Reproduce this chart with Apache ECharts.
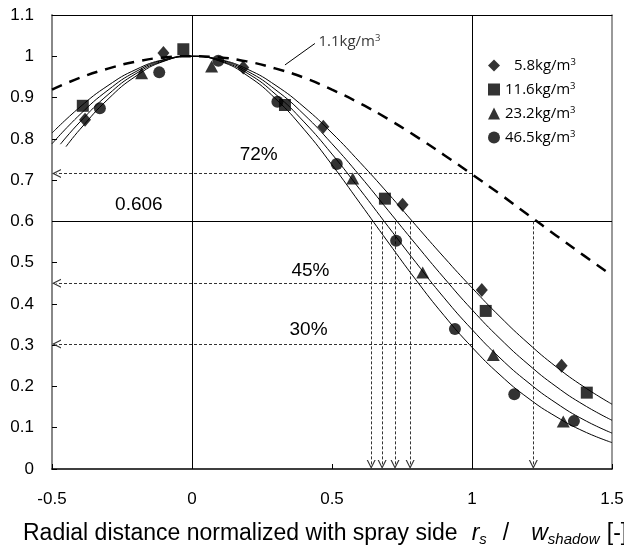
<!DOCTYPE html>
<html><head><meta charset="utf-8">
<script src="https://cdn.jsdelivr.net/npm/echarts@6/dist/echarts.min.js"></script>
<style>html,body{margin:0;padding:0;background:#fff}#c{width:624px;height:558px}</style>
</head><body><div id="c"></div>
<script>
// ---- data ----
const xTickLabels = ['-0.5', '0', '0.5', '1', '1.5'];
const densities = ['5.8', '11.6', '23.2', '46.5'];
const seriesNames = ['5.8kg/m3', '11.6kg/m3', '23.2kg/m3', '46.5kg/m3'];

const pts58  = [[-0.382,0.846],[-0.102,1.008],[0.183,0.973],[0.469,0.829],[0.752,0.640],[1.035,0.434],[1.320,0.250]];
const pts116 = [[-0.390,0.880],[-0.031,1.017],[0.332,0.882],[0.689,0.655],[1.049,0.383],[1.410,0.185]];
const pts232 = [[-0.180,0.959],[0.070,0.975],[0.574,0.704],[0.824,0.476],[1.076,0.276],[1.326,0.115]];
const pts465 = [[-0.329,0.874],[-0.117,0.961],[0.094,0.989],[0.305,0.890],[0.517,0.739],[0.729,0.553],[0.939,0.339],[1.151,0.181],[1.364,0.116]];

const fit58  = [[-0.5,0.814],[-0.4,0.877],[-0.3,0.929],[-0.2,0.968],[-0.1,0.992],[0,1],[0.1,0.992],[0.2,0.968],[0.3,0.929],[0.4,0.877],[0.5,0.814],[0.6,0.743],[0.7,0.668],[0.8,0.590],[0.9,0.513],[1.0,0.439],[1.1,0.369],[1.2,0.305],[1.3,0.248],[1.4,0.199],[1.5,0.157]];
const fit116 = [[-0.5,0.788],[-0.4,0.859],[-0.3,0.918],[-0.2,0.963],[-0.1,0.991],[0,1],[0.1,0.991],[0.2,0.963],[0.3,0.918],[0.4,0.859],[0.5,0.788],[0.6,0.710],[0.7,0.627],[0.8,0.544],[0.9,0.463],[1.0,0.386],[1.1,0.316],[1.2,0.254],[1.3,0.200],[1.4,0.155],[1.5,0.118]];
const fit232 = [[-0.47,0.787],[-0.4,0.841],[-0.3,0.907],[-0.2,0.958],[-0.1,0.989],[0,1],[0.1,0.989],[0.2,0.958],[0.3,0.907],[0.4,0.841],[0.5,0.763],[0.6,0.677],[0.7,0.588],[0.8,0.500],[0.9,0.415],[1.0,0.338],[1.1,0.269],[1.2,0.210],[1.3,0.160],[1.4,0.119],[1.5,0.087]];
const fit465 = [[-0.45,0.781],[-0.4,0.823],[-0.3,0.896],[-0.2,0.952],[-0.1,0.988],[0,1],[0.1,0.988],[0.2,0.952],[0.3,0.896],[0.4,0.823],[0.5,0.737],[0.6,0.644],[0.7,0.550],[0.8,0.458],[0.9,0.372],[1.0,0.295],[1.1,0.228],[1.2,0.172],[1.3,0.127],[1.4,0.091],[1.5,0.064]];
const fit11  = [[-0.5,0.919],[-0.4,0.948],[-0.3,0.970],[-0.2,0.987],[-0.1,0.997],[0,1],[0.1,0.997],[0.2,0.987],[0.3,0.970],[0.4,0.948],[0.5,0.919],[0.6,0.886],[0.7,0.848],[0.8,0.806],[0.9,0.761],[1.0,0.714],[1.1,0.666],[1.2,0.616],[1.3,0.566],[1.4,0.517],[1.5,0.469]];

const refY = 0.6;                       // 0.606 line
const pctLevels = [0.716, 0.45, 0.303]; // 72%, 45%, 30%
const halfWidths = [0.640, 0.679, 0.725, 0.779, 1.219];
const notes = [
  {x:-0.188, y:0.64, text:'0.606'},
  {x:0.24, y:0.761, text:'72%'},
  {x:0.425, y:0.48, text:'45%'},
  {x:0.418, y:0.337, text:'30%'}
];
const leaderLine = [[0.332,0.979],[0.439,1.031]];
const leaderText = {x:0.45, y:1.035};

// ---- chart ----
const FONT = 'Liberation Sans';
const LFONT = 'Open Sans';
const chevron = 'path://M50,0 L100,100 L86,100 L50,28 L14,100 L0,100 Z';

const markData = [];
const solid = {type:'solid', color:'#000', width:1};
markData.push([{coord:[0,0], lineStyle:solid},{coord:[0,1.1]}]);
markData.push([{coord:[1,0], lineStyle:solid},{coord:[1,1.1]}]);
markData.push([{coord:[-0.5,refY], lineStyle:solid},{coord:[1.5,refY]}]);
const dashed = {type:[3,2], color:'#333', width:1};
pctLevels.forEach(v => {
  markData.push([{coord:[1,v], symbol:'none', lineStyle:dashed},{coord:[-0.484,v], symbol:chevron, symbolSize:[9,9]}]);
});
halfWidths.forEach(v => {
  markData.push([{coord:[v,refY], symbol:'none', lineStyle:dashed},{coord:[v,0.011], symbol:chevron, symbolSize:[9,9]}]);
});
markData.push([{coord:leaderLine[0], symbol:'none', lineStyle:solid},{coord:leaderLine[1], symbol:'none'}]);

function fitSeries(data, extra) {
  return Object.assign({
    type:'line', data, smooth:true, showSymbol:false, symbol:'none', silent:true,
    lineStyle:{color:'#000', width:1}, z:2, animation:false
  }, extra || {});
}
function ptSeries(name, data, symbol, size) {
  return {type:'scatter', name, data, symbol, symbolSize:size, itemStyle:{color:'#000'}, z:5, animation:false};
}

const main = {fontFamily:FONT, fontSize:23, fontWeight:'normal', color:'#000', lineHeight:28};
const ital = Object.assign({}, main, {fontStyle:'italic'});
const sub = {fontFamily:FONT, fontSize:15, fontWeight:'normal', fontStyle:'italic', color:'#000', lineHeight:28, padding:[12,0,0,0]};

const chart = echarts.init(document.getElementById('c'), null, {renderer:'canvas'});
chart.setOption({
  animation:false,
  backgroundColor:'#fff',
  grid:{left:52, right:12, top:15, bottom:89, outerBoundsMode:'none', containLabel:false},
  title:{
    left:18, top:515,
    text:'{n|Radial distance normalized with spray side}{g1|}{i|r}{s|s}{g2|}{n|/}{g3|}{i|w}{sw|shadow}{g4|}{n|[-]}',
    textStyle:{fontWeight:'normal', rich:{
      n:main, i:ital, s:sub,
      sw:Object.assign({}, sub, {width:52}),
      g1:Object.assign({}, main, {width:14}),
      g2:Object.assign({}, main, {width:16}),
      g3:Object.assign({}, main, {width:22}),
      g4:Object.assign({}, main, {width:7})
    }}
  },
  legend:{
    orient:'vertical', left:483, top:52, itemWidth:12, itemHeight:12, itemGap:8,
    data:[
      {name:seriesNames[0], icon:'diamond'},
      {name:seriesNames[1], icon:'rect'},
      {name:seriesNames[2], icon:'triangle'},
      {name:seriesNames[3], icon:'circle'}
    ],
    formatter: name => {
      const i = seriesNames.indexOf(name);
      return (i === 0 ? '{p|}' : '') + '{t|' + densities[i] + 'kg/m}{u|3}';
    },
    textStyle:{color:'#000', rich:{
      p:{width:9, fontSize:15, fontFamily:LFONT},
      t:{fontSize:15, fontFamily:LFONT, color:'#000', lineHeight:16},
      u:{fontSize:9.5, fontFamily:LFONT, color:'#000', padding:[0,0,7,0]}
    }}
  },
  xAxis:[{
    type:'value', min:-0.5, max:1.5, interval:0.5,
    axisLine:{onZero:false, lineStyle:{color:'#000', width:1.5}},
    axisTick:{inside:true, length:5, lineStyle:{color:'#000'}},
    axisLabel:{fontFamily:FONT, fontSize:17, color:'#000', margin:22,
      formatter: v => xTickLabels[Math.round((v + 0.5) / 0.5)]},
    splitLine:{show:false}
  },{
    type:'value', position:'top', min:-0.5, max:1.5,
    axisLine:{onZero:false, lineStyle:{color:'#000', width:1}},
    axisTick:{show:false}, axisLabel:{show:false}, splitLine:{show:false}
  }],
  yAxis:[{
    type:'value', min:0, max:1.1, interval:0.1,
    axisLine:{show:true, onZero:false, lineStyle:{color:'#888', width:2}},
    axisTick:{show:true, inside:true, length:5, lineStyle:{color:'#000'}},
    axisLabel:{fontFamily:FONT, fontSize:17, color:'#000', margin:18},
    splitLine:{show:false}
  },{
    type:'value', position:'right', min:0, max:1.1,
    axisLine:{show:true, onZero:false, lineStyle:{color:'#777', width:1.5}},
    axisTick:{show:false}, axisLabel:{show:false}, splitLine:{show:false}
  }],
  series:[
    fitSeries(fit11, {lineStyle:{color:'#000', width:2.5, type:[11,8]},
      markLine:{silent:true, symbol:'none', label:{show:false}, animation:false, data:markData}}),
    fitSeries(fit58), fitSeries(fit116), fitSeries(fit232), fitSeries(fit465),
    ptSeries(seriesNames[0], pts58, 'diamond', [12,14]),
    ptSeries(seriesNames[1], pts116, 'rect', 12),
    ptSeries(seriesNames[2], pts232, 'triangle', [13,12]),
    ptSeries(seriesNames[3], pts465, 'circle', 12),
    {
      type:'scatter', name:'notes', symbolSize:1, itemStyle:{color:'rgba(0,0,0,0)'}, silent:true, z:6,
      data: notes.map(n => ({value:[n.x, n.y], label:{show:true, position:[0,0], align:'center', verticalAlign:'middle',
        formatter:n.text, fontFamily:FONT, fontSize:19, color:'#000', opacity:1}})).concat([{
        value:[leaderText.x, leaderText.y],
        label:{show:true, position:'right', distance:0, formatter:'{t|1.1kg/m}{u|3}', color:'#000',
          rich:{t:{fontSize:15, fontFamily:LFONT, color:'#000', lineHeight:16}, u:{fontSize:9.5, fontFamily:LFONT, color:'#000', padding:[0,0,7,0]}}}
      }])
    }
  ]
});
</script>
</body></html>
